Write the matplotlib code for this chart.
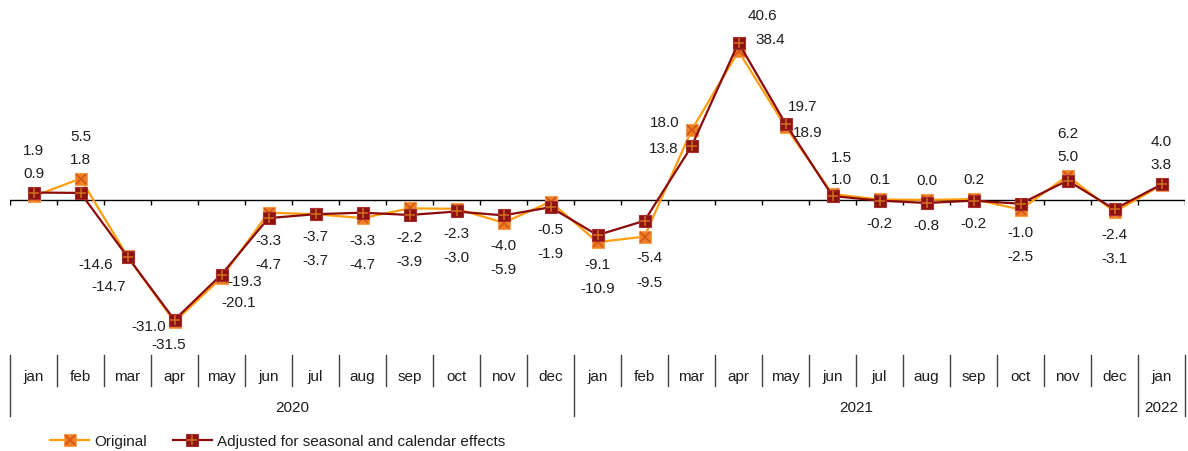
import matplotlib
matplotlib.use("Agg")
import matplotlib.pyplot as plt
from matplotlib.lines import Line2D
from matplotlib.transforms import blended_transform_factory

plt.rcParams['font.family'] = ['Liberation Sans', 'DejaVu Sans']

# monthly change, %
months = ['jan', 'feb', 'mar', 'apr', 'may', 'jun', 'jul', 'aug', 'sep', 'oct', 'nov', 'dec',
          'jan', 'feb', 'mar', 'apr', 'may', 'jun', 'jul', 'aug', 'sep', 'oct', 'nov', 'dec',
          'jan']
years = ['2020', '2021', '2022']
year_len = [12, 12, 1]

original = [0.9, 5.5, -14.6, -31.5, -20.1, -3.3, -3.7, -4.7, -2.2, -2.3, -5.9, -0.5,
            -10.9, -9.5, 18.0, 38.4, 18.9, 1.5, 0.1, 0.0, 0.2, -2.5, 6.2, -3.1, 3.8]
adjusted = [1.9, 1.8, -14.7, -31.0, -19.3, -4.7, -3.7, -3.3, -3.9, -3.0, -4.0, -1.9,
            -9.1, -5.4, 13.8, 40.6, 19.7, 1.0, -0.2, -0.8, -0.2, -1.0, 5.0, -2.4, 4.0]

# colours
c_orig_line = '#FF9E0F'
c_orig_face = '#EE7F22'
c_orig_x = '#D4561A'
c_adj_line = '#8B0A0A'
c_adj_face = '#8E1212'
c_adj_plus = '#D0701E'
txt_col = '#1e1e1e'
sep_col = '#404040'
fs = 11

W, H = 1188, 452
fig = plt.figure(figsize=(W / 100, H / 100), dpi=100)
ax = fig.add_axes([10 / W, 99 / H, 1175 / W, 353 / H])

x = list(range(len(months)))

# original series: square with a cross
ax.plot(x, original, color=c_orig_line, lw=1.6, zorder=3)
ax.plot(x, original, ls='none', marker='s', ms=8, mfc=c_orig_face, mec='#F5A050',
        mew=0.8, zorder=4)
ax.plot(x, original, ls='none', marker='x', ms=6.5, mec=c_orig_x, mew=1.2, zorder=5)

# adjusted series: square with a plus
ax.plot(x, adjusted, color=c_adj_line, lw=1.6, zorder=6)
ax.plot(x, adjusted, ls='none', marker='s', ms=8, mfc=c_adj_face, mec='#A83030',
        mew=0.8, zorder=7)
ax.plot(x, adjusted, ls='none', marker='+', ms=7, mec=c_adj_plus, mew=1.1, zorder=8)

ax.set_xlim(-0.5, len(months) - 0.5)
ax.set_ylim(-39.3, 51.9)
ax.axis('off')

# zero line with small ticks at month boundaries
ax.axhline(0, color='black', lw=1, zorder=2)
ax.vlines([k - 0.5 for k in range(len(months) + 1)], -1.3, 0, color='black', lw=1, zorder=2)

# value labels: non-negative above the points, negative below
label_shift = {
    2: [(-32, -7), (-19, -29)],
    3: [(-26, -4), (-6, -22)],
    4: [(23, -3), (17, -24)],
    13: [(5, -20), (5, -45)],
    14: [(-27, 8), (-28, -18)],
    15: [(24, 28), (32, 4)],
    16: [(17, 18), (22, -8)],
    17: [(9, 37), (9, 15)],
}
for i in x:
    vals = [original[i], adjusted[i]]
    pos = sorted([v for v in vals if v >= 0], reverse=True)
    neg = sorted([v for v in vals if v < 0], reverse=True)
    placed = []
    if pos:
        ref = max(pos)
        n = len(pos)
        for k, v in enumerate(pos):
            placed.append((v, ref, 0, 20 + 23 * (n - 1 - k)))
    if neg:
        ref = min(neg)
        for k, v in enumerate(neg):
            placed.append((v, ref, 0, -(22 + 24 * k)))
    if i in label_shift:
        placed = [(v, ref, dx, dy) for (v, ref, _, _), (dx, dy) in zip(placed, label_shift[i])]
    for v, ref, dx, dy in placed:
        ax.annotate(f'{v:.1f}', xy=(i, ref), xytext=(dx, dy), textcoords='offset pixels',
                    ha='center', va='center', fontsize=fs, color=txt_col, zorder=10)

# category table under the plot
tr = blended_transform_factory(ax.transData, fig.transFigure)


def fy(py):
    return 1 - py / H


for i, m in enumerate(months):
    ax.text(i, fy(377), m, transform=tr, ha='center', va='center', fontsize=fs,
            color=txt_col, clip_on=False)

year_edges = [-0.5]
for n in year_len:
    year_edges.append(year_edges[-1] + n)
for k in range(len(months) + 1):
    b = k - 0.5
    bottom = 417 if b in year_edges else 387
    ax.add_line(Line2D([b, b], [fy(356), fy(bottom)], transform=tr, color=sep_col,
                       lw=1, clip_on=False))
for yr, a, b in zip(years, year_edges[:-1], year_edges[1:]):
    ax.text((a + b) / 2, fy(408), yr, transform=tr, ha='center', va='center',
            fontsize=fs, color=txt_col, clip_on=False)

# legend
h_orig = (Line2D([], [], color=c_orig_line, lw=1.6, marker='s', ms=8, mfc=c_orig_face,
                 mec='#F5A050', mew=0.8),
          Line2D([], [], ls='none', marker='x', ms=6.5, mec=c_orig_x, mew=1.2))
h_adj = (Line2D([], [], color=c_adj_line, lw=1.6, marker='s', ms=8, mfc=c_adj_face,
                mec='#A83030', mew=0.8),
         Line2D([], [], ls='none', marker='+', ms=7, mec=c_adj_plus, mew=1.1))
fig.legend([h_orig, h_adj], ['Original', 'Adjusted for seasonal and calendar effects'],
           loc='center left', bbox_to_anchor=(42 / W, fy(442)), ncol=2, frameon=False,
           fontsize=fs, handlelength=2.6, handletextpad=0.3, columnspacing=1.7,
           borderpad=0, labelcolor=txt_col)

fig.savefig('out.png', dpi=100)
